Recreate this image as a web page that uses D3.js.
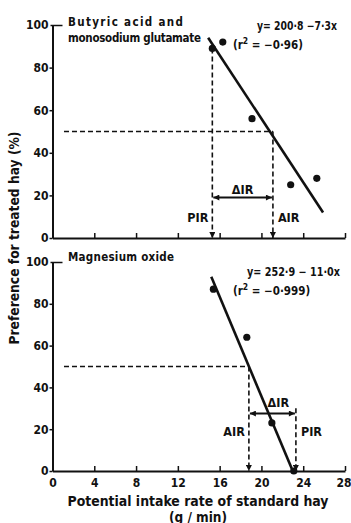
<!DOCTYPE html>
<html>
<head>
<meta charset="utf-8">
<script src="https://cdn.jsdelivr.net/npm/d3@7"></script>
<style>
  body { margin: 0; background: #fff; }
  svg { display: block; }
  text { font-family: "DejaVu Sans Condensed", "DejaVu Sans", sans-serif; font-weight: bold; fill: #111; }
</style>
</head>
<body>
<div id="chart"></div>
<script>
// axis ticks
const xTicks = [0, 4, 8, 12, 16, 20, 24, 28];
const yTicks = [0, 20, 40, 60, 80, 100];

// panel texts
const panelTitles = [["Butyric acid and", "monosodium glutamate"], ["Magnesium oxide"]];
const equations = ["y= 200·8 −7·3x", "y= 252·9 − 11·0x"];
const rSquared = ["= −0·96)", "= −0·999)"];

// observed points [intake rate, preference]
const butyricPoints = [[15.3, 89], [16.3, 92], [19.1, 56], [22.8, 25], [25.3, 28]];
const magnesiumPoints = [[15.4, 87], [18.6, 64], [21.0, 23], [23.1, 0]];

// fitted regression lines, end points
const butyricFit = [[14.9, 94], [25.9, 12]];
const magnesiumFit = [[15.2, 93], [23.0, 0]];

// potential / actual intake rates and the 50 % preference level
const pirValues = [15.3, 23.3];
const pirTops = [89, 30];
const airValues = [21.1, 18.8];
const halfPref = 50;
const deltaLevels = [19, 27.5];
const labelLevels = [9.5, 19];

const width = 351, height = 523;

const svg = d3.select("#chart").append("svg")
  .attr("width", width)
  .attr("height", height);

const defs = svg.append("defs");
defs.append("marker")
  .attr("id", "arrow")
  .attr("viewBox", "0 0 10 10")
  .attr("refX", 10).attr("refY", 5)
  .attr("markerWidth", 7).attr("markerHeight", 6)
  .attr("markerUnits", "userSpaceOnUse")
  .attr("orient", "auto-start-reverse")
  .append("path")
  .attr("d", "M0,0L10,5L0,10Z")
  .attr("fill", "#111");

const x = d3.scaleLinear().domain([0, 28]).range([52.5, 345]);

const panels = [
  { y: d3.scaleLinear().domain([0, 100]).range([238, 25]), labels: false },
  { y: d3.scaleLinear().domain([0, 100]).range([471, 262]), labels: true }
];
const pointSets = [butyricPoints, magnesiumPoints];
const fits = [butyricFit, magnesiumFit];
const eqPos = [
  { x: 257, y: 30, w: 80, rx: 233, ry: 48.5 },
  { x: 247, y: 276, w: 93, rx: 233, ry: 295 }
];
const titleBase = [[25.5, 41.5], [260.5]];
const titleWidth = [[115, 133], [106]];

panels.forEach((p, i) => {
  const y = p.y;
  const g = svg.append("g");

  // x axis, ticks pointing up into the plot
  const xAxis = g.append("g")
    .attr("transform", `translate(0,${y(0)})`)
    .call(d3.axisBottom(x).tickValues(xTicks).tickSize(-5).tickSizeOuter(0)
      .tickFormat(p.labels ? d3.format("d") : ""));
  xAxis.select(".domain").attr("stroke", "#111").attr("stroke-width", 2);
  xAxis.selectAll(".tick line").attr("stroke", "#111").attr("stroke-width", 1.5);
  xAxis.selectAll(".tick text")
    .attr("y", 7).attr("dy", "0.71em")
    .attr("font-size", 12).attr("font-family", null);
  // keep the last label inside the frame
  xAxis.select(".tick:last-of-type text")
    .attr("text-anchor", "end").attr("x", 351 - x(28));

  // y axis
  const yAxis = g.append("g")
    .attr("transform", `translate(${x(0)},0)`)
    .call(d3.axisLeft(y).tickValues(yTicks).tickSize(3).tickSizeOuter(0));
  yAxis.select(".domain").attr("stroke", "#111").attr("stroke-width", 2);
  yAxis.selectAll(".tick line").attr("stroke", "#111").attr("stroke-width", 1.5);
  yAxis.select(".tick:last-of-type line").attr("x1", 10).attr("x2", -2);
  yAxis.selectAll(".tick text")
    .attr("x", -4)
    .attr("font-size", 12).attr("font-family", null);

  // dashed guide lines
  const dashed = (x1, y1, x2, y2, arrow) => {
    const l = g.append("line")
      .attr("x1", x1).attr("y1", y1).attr("x2", x2).attr("y2", y2)
      .attr("stroke", "#111")
      .attr("stroke-width", 1.6)
      .attr("stroke-dasharray", "5,3");
    if (arrow) l.attr("marker-end", "url(#arrow)");
    return l;
  };
  dashed(x(1.1), y(halfPref), x(airValues[i]), y(halfPref), false);
  dashed(x(airValues[i]), y(halfPref), x(airValues[i]), y(0), true);
  dashed(x(pirValues[i]), y(pirTops[i]), x(pirValues[i]), y(0), true);

  // delta IR double arrow
  const lo = Math.min(pirValues[i], airValues[i]);
  const hi = Math.max(pirValues[i], airValues[i]);
  g.append("line")
    .attr("x1", x(lo) + 1).attr("x2", x(hi) - 1)
    .attr("y1", y(deltaLevels[i])).attr("y2", y(deltaLevels[i]))
    .attr("stroke", "#111").attr("stroke-width", 2)
    .attr("marker-start", "url(#arrow)")
    .attr("marker-end", "url(#arrow)");
  g.append("text")
    .attr("x", (x(lo) + x(hi)) / 2 + (i === 0 ? 0 : 6))
    .attr("y", y(deltaLevels[i]) - (i === 0 ? 4 : 7))
    .attr("text-anchor", "middle")
    .attr("font-size", 12.5)
    .text("ΔIR");

  // PIR / AIR labels
  const leftLabel = i === 0 ? "PIR" : "AIR";
  const rightLabel = i === 0 ? "AIR" : "PIR";
  g.append("text")
    .attr("x", x(lo) - 4).attr("y", y(labelLevels[i]))
    .attr("dy", "0.36em")
    .attr("text-anchor", "end")
    .attr("font-size", 12.5)
    .text(leftLabel);
  g.append("text")
    .attr("x", x(hi) + 5).attr("y", y(labelLevels[i]))
    .attr("dy", "0.36em")
    .attr("font-size", 12.5)
    .text(rightLabel);

  // regression line
  g.append("path")
    .datum(fits[i])
    .attr("fill", "none")
    .attr("stroke", "#111")
    .attr("stroke-width", 2.6)
    .attr("d", d3.line().x(d => x(d[0])).y(d => y(d[1])));

  // data points
  g.selectAll("circle")
    .data(pointSets[i])
    .join("circle")
    .attr("cx", d => x(d[0]))
    .attr("cy", d => y(d[1]))
    .attr("r", 3.6)
    .attr("fill", "#111");

  // panel title
  panelTitles[i].forEach((t, j) => {
    g.append("text")
      .attr("x", 68).attr("y", titleBase[i][j])
      .attr("font-size", 11.5)
      .attr("textLength", titleWidth[i][j]).attr("lengthAdjust", "spacing")
      .text(t);
  });

  // equation and r^2
  g.append("text")
    .attr("x", eqPos[i].x).attr("y", eqPos[i].y)
    .attr("font-size", 11.5)
    .attr("textLength", eqPos[i].w).attr("lengthAdjust", "spacingAndGlyphs")
    .text(equations[i]);
  const r = g.append("text")
    .attr("x", eqPos[i].rx).attr("y", eqPos[i].ry)
    .attr("font-size", 11.5);
  r.append("tspan").text("(r");
  r.append("tspan").attr("dy", -5).attr("font-size", 8.5).text("2");
  r.append("tspan").attr("dy", 5).text(" " + rSquared[i]);
});

// axis titles
svg.append("text")
  .attr("x", 198).attr("y", 506)
  .attr("text-anchor", "middle")
  .attr("font-size", 13.5)
  .attr("textLength", 261).attr("lengthAdjust", "spacingAndGlyphs")
  .text("Potential intake rate of standard hay");
svg.append("text")
  .attr("x", 198).attr("y", 521.5)
  .attr("text-anchor", "middle")
  .attr("font-size", 13.5)
  .text("(g / min)");
svg.append("text")
  .attr("transform", "translate(18.5,238) rotate(-90)")
  .attr("text-anchor", "middle")
  .attr("font-size", 13.5)
  .attr("textLength", 213).attr("lengthAdjust", "spacingAndGlyphs")
  .text("Preference for treated hay (%)");
</script>
</body>
</html>
